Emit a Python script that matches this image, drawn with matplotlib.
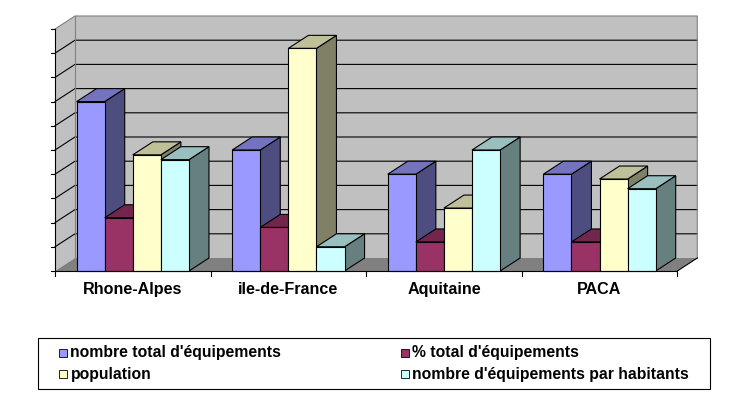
import matplotlib
matplotlib.use("Agg")
import matplotlib.pyplot as plt
from matplotlib.patches import Polygon, Rectangle
from matplotlib.colors import to_rgb

# ---------------- data ----------------
categories = ["Rhone-Alpes", "ile-de-France", "Aquitaine", "PACA"]
series_names = ["nombre total d'équipements", "% total d'équipements",
                "population", "nombre d'équipements par habitants"]
nombre_total = [7.0, 5.0, 4.0, 4.0]
pct_total = [2.2, 1.8, 1.2, 1.2]
population = [4.8, 9.2, 2.6, 3.8]
par_habitants = [4.6, 1.0, 5.0, 3.4]
series_values = [nombre_total, pct_total, population, par_habitants]
front_colors = ["#9999FF", "#993366", "#FFFFCC", "#CCFFFF"]
y_max = 10

# ---------------- layout ----------------
W, H = 749, 395
fig = plt.figure(figsize=(W / 100, H / 100), dpi=100)
fig.patch.set_facecolor("white")

ax_left, ax_right, ax_bottom, ax_top = 55, 677.3, 271, 29   # pixel coords
ax = fig.add_axes([ax_left / W, (H - ax_bottom) / H,
                   (ax_right - ax_left) / W, (ax_bottom - ax_top) / H])
n = len(categories)
ax.set_xlim(0, n)
ax.set_ylim(0, y_max)
ax.axis("off")

px_x = (ax_right - ax_left) / n          # pixels per category unit
px_y = (ax_bottom - ax_top) / y_max      # pixels per value unit
DX = 20 / px_x
DY = 13 / px_y

wall = "#C0C0C0"
floor = "#808080"
edge_gray = "#808080"
lw = 0.8


def shade(c, f):
    r, g, b = to_rgb(c)
    return (r * f, g * f, b * f)


def poly(pts, fc, ec="none", z=1, lw_=lw):
    ax.add_patch(Polygon(pts, closed=True, facecolor=fc, edgecolor=ec,
                         linewidth=lw_, zorder=z, clip_on=False,
                         joinstyle="miter"))


# back wall
poly([(DX, DY), (n + DX, DY), (n + DX, y_max + DY), (DX, y_max + DY)], wall, z=1)
# left wall
poly([(0, 0), (DX, DY), (DX, y_max + DY), (0, y_max)], wall, z=1)
# floor
poly([(0, 0), (n, 0), (n + DX, DY), (DX, DY)], floor, z=1)

# gridlines
for v in range(1, y_max):
    ax.plot([0, DX, n + DX], [v, v + DY, v + DY], color="black", lw=lw,
            zorder=2, clip_on=False, solid_joinstyle="miter")
# wall borders (gray)
ax.plot([0, DX, n + DX, n + DX], [y_max, y_max + DY, y_max + DY, DY],
        color=edge_gray, lw=lw, zorder=2, clip_on=False)
ax.plot([DX, DX], [DY, y_max + DY], color=edge_gray, lw=lw, zorder=2, clip_on=False)
ax.plot([n, n + DX], [0, DY], color="black", lw=lw, zorder=2, clip_on=False)

# bars
gap = 21.6 / px_x
bw = (1 - 2 * gap) / len(series_values)
z = 3
for i in range(n):
    for j, vals in enumerate(series_values):
        v = vals[i]
        c = front_colors[j]
        x0 = i + gap + j * bw
        x1 = x0 + bw
        poly([(x1, 0), (x1 + DX, DY), (x1 + DX, v + DY), (x1, v)],
             shade(c, 0.5), "black", z)
        poly([(x0, v), (x0 + DX, v + DY), (x1 + DX, v + DY), (x1, v)],
             shade(c, 0.75), "black", z)
        poly([(x0, 0), (x1, 0), (x1, v), (x0, v)], c, "black", z)
        z += 1

# axes lines and ticks
tick_x = 4.5 / px_x
tick_y = 4.5 / px_y
ax.plot([0, 0], [0, y_max], color="black", lw=lw, zorder=50, clip_on=False)
ax.plot([0, n], [0, 0], color="black", lw=lw, zorder=50, clip_on=False)
for v in range(0, y_max + 1):
    ax.plot([-tick_x, 0], [v, v], color="black", lw=lw, zorder=50, clip_on=False)
for k in range(0, n + 1):
    ax.plot([k, k], [0, -tick_y], color="black", lw=lw, zorder=50, clip_on=False)

# category labels
for i, cat in enumerate(categories):
    ax.text(i + 0.5, -(289.5 - ax_bottom) / px_y, cat, ha="center", va="center",
            fontsize=11.6, fontweight="bold", family="Liberation Sans",
            zorder=60, clip_on=False)

# legend (drawn manually)
def fx(p):
    return p / W


def fy(p):
    return (H - p) / H


fig.add_artist(Rectangle((fx(38.3), fy(389.3)), fx(710) - fx(38.3),
                         fy(338.3) - fy(389.3), transform=fig.transFigure,
                         facecolor="white", edgecolor="black", linewidth=lw))
rows = [352.7, 374.3, 352.7, 374.3]
order = [0, 2, 1, 3]
col_x = [59, 59, 400.7, 400.7]
for slot, j in enumerate(order):
    mx = col_x[slot]
    my = rows[slot]
    fig.add_artist(Rectangle((fx(mx), fy(my + 4)), 8 / W, 8 / H,
                             transform=fig.transFigure, facecolor=front_colors[j],
                             edgecolor="black", linewidth=0.6))
    fig.text(fx(mx + 11.5), fy(my), series_names[j], ha="left", va="center",
             fontsize=11.3, fontweight="bold", family="Liberation Sans")

fig.savefig("out.png", dpi=100)
